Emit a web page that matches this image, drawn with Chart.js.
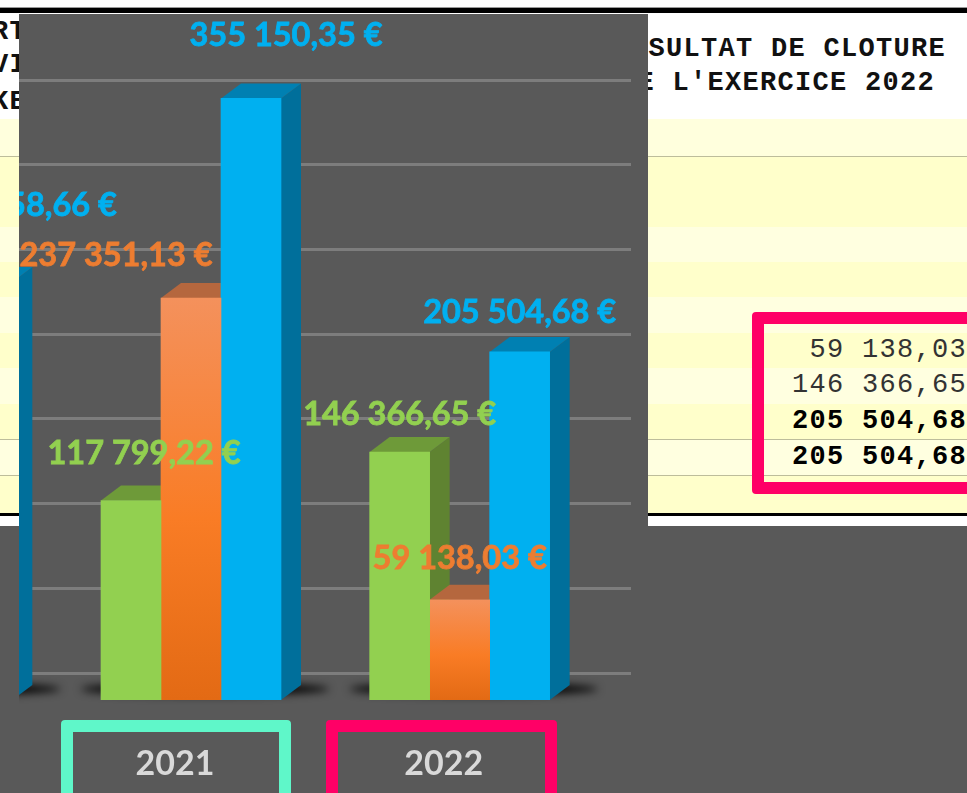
<!DOCTYPE html>
<html>
<head>
<meta charset="utf-8">
<script src="https://cdn.jsdelivr.net/npm/chart.js@4"></script>
<style>
html, body { margin: 0; padding: 0; width: 967px; height: 793px; overflow: hidden; background: #595959; }
#sheet { position: absolute; left: 0; top: 0; width: 967px; height: 526px; background: #fff; overflow: hidden; }
#sheet div { position: absolute; }
.txt { font-family: "Liberation Mono", monospace; white-space: pre; color: #111; }
.title { font-weight: bold; font-size: 27px; letter-spacing: 1.3px; line-height: 34px; }
.num { font-size: 27px; letter-spacing: 1.3px; line-height: 36px; right: 0; color: #333; }
.num.b { font-weight: bold; color: #000; }
#panel { position: absolute; left: 19px; top: 14px; width: 629px; height: 779px; background: #595959; overflow: hidden; }
#panel canvas { position: absolute; left: -231px; top: 0; }
.box { position: absolute; box-sizing: border-box; border: 12px solid; border-radius: 4px; }
</style>
</head>
<body>
<div id="sheet"></div>
<div id="panel"><canvas id="bilan" width="843" height="779"></canvas></div>
<div class="box" style="left:61px;top:720px;width:230px;height:90px;border-color:#5ff7c9"></div>
<div class="box" style="left:326px;top:720px;width:231px;height:90px;border-color:#ff0066"></div>
<div class="box" style="left:752px;top:312px;width:240px;height:182px;border-color:#ff0066"></div>
<script>
var years = ["2020", "2021", "2022"];
var col1 = [null, 117799.22, 146366.65];
var col2 = [null, 237351.13, 59138.03];
var col3 = [246758.66, 355150.35, 205504.68];
var gridValues = [15940, 65940, 115940, 165940, 215940, 265940, 315940, 365940];

// where each value label sits, relative to the top of its bar
var labelShift = [
  [null, [13, -47], [0, -38]],
  [null, [-75, -42], [0, -41]],
  [[38, -77], [35, -63], [0, -39]]
];

var tableRows = [
  [119, 156, "#ffffdd"], [156, 227, "#ffffcb"], [227, 262, "#ffffe0"], [262, 297, "#ffffcb"],
  [297, 333, "#ffffe0"], [333, 368, "#ffffcb"], [368, 404, "#ffffe0"], [404, 439, "#ffffcb"],
  [439, 475, "#ffffe0"], [475, 513, "#ffffcb"]
];
var tableLines = [[156, "#bdbd9b"], [439, "#bdbd9b"], [475, "#bdbd9b"], [513, "#000"], [514, "#000"], [515, "#000"]];

var sheet = document.getElementById("sheet");
function addDiv(css, cls, text) {
  var d = document.createElement("div");
  d.style.cssText = css;
  if (cls) d.className = cls;
  if (text) d.textContent = text;
  sheet.appendChild(d);
}
addDiv("left:0;top:7px;width:967px;height:1px;background:#999");
addDiv("left:0;top:8px;width:967px;height:5px;background:#000");
tableRows.forEach(function (r) {
  addDiv("left:0;width:967px;top:" + r[0] + "px;height:" + (r[1] - r[0]) + "px;background:" + r[2]);
});
tableLines.forEach(function (l) {
  addDiv("left:0;width:967px;height:1px;top:" + l[0] + "px;background:" + l[1]);
});
addDiv("left:-8px;top:15px", "txt title", "RT");
addDiv("left:-8px;top:48px", "txt title", "VI");
addDiv("left:-8px;top:85px", "txt title", "KE");
addDiv("right:21px;top:32px", "txt title", "RESULTAT DE CLOTURE");
addDiv("right:32px;top:66px", "txt title", "DE L'EXERCICE 2022");
addDiv("top:332px", "txt num", "59 138,03");
addDiv("top:367px", "txt num", "146 366,65");
addDiv("top:403px", "txt num b", "205 504,68");
addDiv("top:439px", "txt num b", "205 504,68");

var depthX = 20, depthY = 15;
var faces = [
  { side: "#5f8331", top: "#6e9a39", label: "#92d050" },
  { side: "#a85c34", top: "#b5673e", label: "#ed7d31" },
  { side: "#006f9b", top: "#0080b2", label: "#00b0f0" }
];

function orangeFill(ctx) {
  var chart = ctx.chart, y = chart.scales.y;
  if (!y || ctx.raw == null) return "#f97c25";
  var g = chart.ctx.createLinearGradient(0, y.getPixelForValue(ctx.raw), 0, y.getPixelForValue(0));
  g.addColorStop(0, "#f4915c");
  g.addColorStop(0.55, "#f97c25");
  g.addColorStop(1, "#e36a14");
  return g;
}

// shadow, side and top faces go under all the fronts
var relief = {
  id: "relief",
  beforeDatasetsDraw: function (chart) {
    var c = chart.ctx, x = chart.scales.x, y = chart.scales.y;
    c.save();
    c.filter = "blur(4px)";
    c.fillStyle = "#000";
    years.forEach(function (yr, i) {
      c.beginPath();
      c.ellipse(x.getPixelForValue(i) + 14, y.getPixelForValue(0) - 11, 124, 6, 0, 0, Math.PI * 2);
      c.fill();
    });
    c.filter = "none";
    chart.data.datasets.forEach(function (ds, di) {
      chart.getDatasetMeta(di).data.forEach(function (bar, i) {
        if (ds.data[i] == null) return;
        var l = bar.x - bar.width / 2, r = bar.x + bar.width / 2, t = bar.y, b = bar.base;
        c.fillStyle = faces[di].side;
        c.beginPath();
        c.moveTo(r, t); c.lineTo(r + depthX, t - depthY); c.lineTo(r + depthX, b - depthY); c.lineTo(r, b);
        c.closePath(); c.fill();
        c.fillStyle = faces[di].top;
        c.beginPath();
        c.moveTo(l, t); c.lineTo(l + depthX, t - depthY); c.lineTo(r + depthX, t - depthY); c.lineTo(r, t);
        c.closePath(); c.fill();
      });
    });
    c.restore();
  },
  afterDatasetsDraw: function (chart) {
    var c = chart.ctx;
    c.save();
    c.font = "bold 32.5px Lato";
    c.textAlign = "center";
    c.textBaseline = "middle";
    c.lineWidth = 0.8;
    chart.data.datasets.forEach(function (ds, di) {
      chart.getDatasetMeta(di).data.forEach(function (bar, i) {
        var v = ds.data[i];
        if (v == null) return;
        var txt = v.toFixed(2).replace(".", ",").replace(/\B(?=(\d{3})+,)/g, " ") + " \u20ac";
        var px = bar.x + labelShift[di][i][0], py = bar.y + labelShift[di][i][1];
        c.fillStyle = faces[di].label;
        c.strokeStyle = faces[di].label;
        c.fillText(txt, px, py);
        c.strokeText(txt, px, py);
      });
    });
    c.restore();
  }
};

new Chart("bilan", {
  type: "bar",
  data: {
    labels: years,
    datasets: [
      { data: col1, backgroundColor: "#92d050" },
      { data: col2, backgroundColor: orangeFill },
      { data: col3, backgroundColor: "#00b0f0" }
    ]
  },
  plugins: [relief],
  options: {
    responsive: false,
    animation: false,
    layout: { padding: 0 },
    barThickness: 60,
    plugins: { legend: { display: false }, tooltip: { enabled: false } },
    scales: {
      x: {
        grid: { display: false },
        border: { display: false },
        afterFit: function (s) { s.height = 93; },
        ticks: {
          color: "#d9d9d9",
          font: { family: "Lato", weight: "bold", size: 34 },
          padding: 36,
          labelOffset: -16,
          maxRotation: 0,
          autoSkip: false
        }
      },
      y: {
        position: "right",
        min: 0,
        max: 405000,
        afterFit: function (s) { s.width = 37; },
        afterBuildTicks: function (s) {
          s.ticks = gridValues.map(function (v) { return { value: v }; });
        },
        border: { display: false },
        ticks: { display: false },
        grid: { color: "#7d7d7d", lineWidth: 3, tickLength: 37 }
      }
    }
  }
});
</script>
</body>
</html>
